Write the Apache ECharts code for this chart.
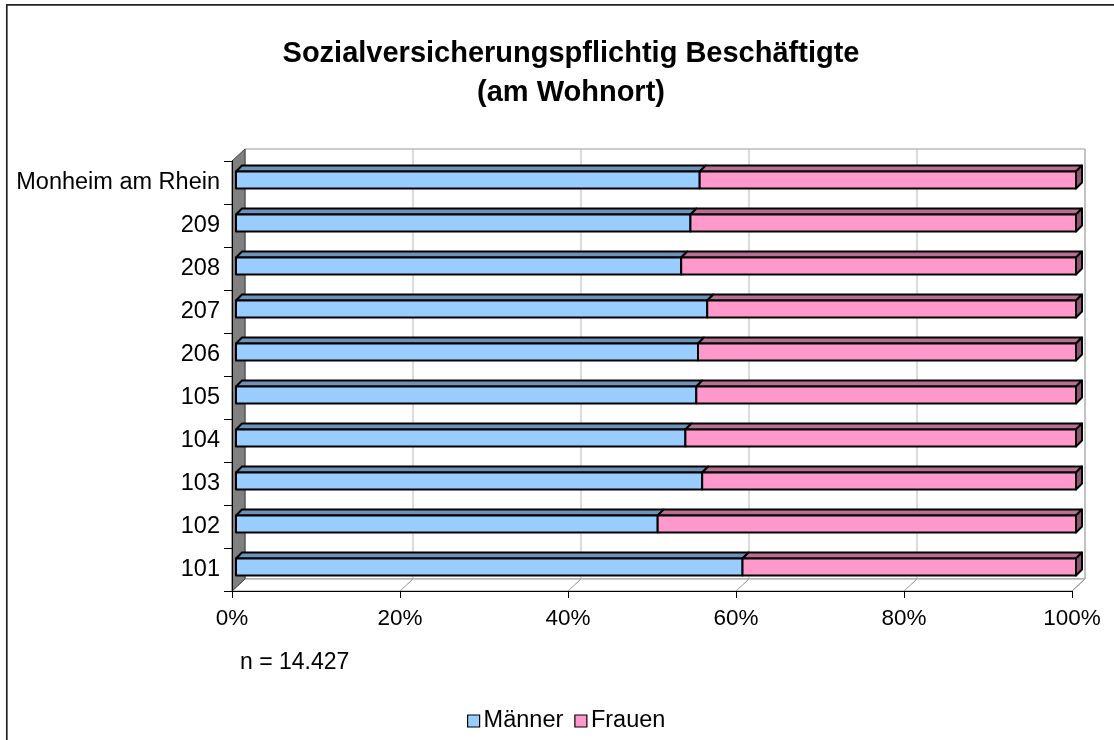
<!DOCTYPE html>
<html>
<head>
<meta charset="utf-8">
<script src="https://cdn.jsdelivr.net/npm/echarts@6/dist/echarts.min.js"></script>
<style>
  html, body { margin: 0; padding: 0; background: #fff; }
  #chart { width: 1114px; height: 740px; }
</style>
</head>
<body>
<div id="chart"></div>
<script>
// categories bottom -> top
const categories = ['101', '102', '103', '104', '105', '206', '207', '208', '209', 'Monheim am Rhein'];
// share in percent
const maenner = [60.3, 50.2, 55.5, 53.5, 54.8, 55.0, 56.1, 53.0, 54.1, 55.2];
const frauen = [39.7, 49.8, 44.5, 46.5, 45.2, 45.0, 43.9, 47.0, 45.9, 44.8];
const xTicks = [0, 20, 40, 60, 80, 100];
const noteText = 'n = 14.427';

const FONT = '"Liberation Sans", Arial, sans-serif';
// depth of the back wall and of the bars
const WALL = [13, -12];
const BAR_OFF = [4, -2.5];
const BAR_DEPTH = [6, -6];
const BAR_H = 17;

var chart = echarts.init(document.getElementById('chart'));

//draws back wall, left wall, floor and gridlines
function renderWalls(params, api) {
  const cs = params.coordSys;
  const x = cs.x, y = cs.y, w = cs.width, h = cs.height;
  const dx = WALL[0], dy = WALL[1];
  const kids = [];
  kids.push({
    type: 'rect',
    shape: { x: x + dx, y: y + dy, width: w, height: h },
    style: { fill: '#fff', stroke: '#999', lineWidth: 1 }
  });
  kids.push({
    type: 'polygon',
    shape: { points: [[x, y + h], [x + dx, y + h + dy], [x + w + dx, y + h + dy], [x + w, y + h]] },
    style: { fill: '#fff', stroke: '#999', lineWidth: 1 }
  });
  xTicks.forEach(function (v) {
    const px = api.coord([v, 0])[0];
    kids.push({
      type: 'line',
      shape: { x1: px + dx, y1: y + dy, x2: px + dx, y2: y + h + dy },
      style: { stroke: '#b8b8b8', lineWidth: 1 }
    });
    kids.push({
      type: 'line',
      shape: { x1: px, y1: y + h, x2: px + dx, y2: y + h + dy },
      style: { stroke: '#999', lineWidth: 1 }
    });
  });
  kids.push({
    type: 'polygon',
    shape: { points: [[x, y], [x + dx, y + dy], [x + dx, y + h + dy], [x, y + h]] },
    style: { fill: '#808080', stroke: '#404040', lineWidth: 1 }
  });
  return { type: 'group', children: kids };
}

function makeBar(front, topC, sideC, withSide) {
  return function (params, api) {
    const p0 = api.coord([api.value(0), api.value(2)]);
    const p1 = api.coord([api.value(1), api.value(2)]);
    const x0 = p0[0] + BAR_OFF[0], x1 = p1[0] + BAR_OFF[0];
    const yc = p0[1] + BAR_OFF[1];
    const top = yc - BAR_H / 2, bot = yc + BAR_H / 2;
    const dx = BAR_DEPTH[0], dy = BAR_DEPTH[1];
    const st = { stroke: '#000', lineWidth: 2, lineJoin: 'round' };
    const kids = [
      {
        type: 'polygon',
        shape: { points: [[x0, top], [x0 + dx, top + dy], [x1 + dx, top + dy], [x1, top]] },
        style: Object.assign({ fill: topC }, st)
      },
      {
        type: 'rect',
        shape: { x: x0, y: top, width: x1 - x0, height: bot - top },
        style: Object.assign({ fill: front }, st)
      }
    ];
    if (withSide) {
      kids.push({
        type: 'polygon',
        shape: { points: [[x1, top], [x1 + dx, top + dy], [x1 + dx, bot + dy], [x1, bot]] },
        style: Object.assign({ fill: sideC }, st)
      });
    }
    return { type: 'group', children: kids };
  };
}

let maennerData = categories.map(function (c, i) { return [0, maenner[i], i]; });
let frauenData = categories.map(function (c, i) { return [maenner[i], maenner[i] + frauen[i], i]; });

let option = {
  animation: false,
  backgroundColor: '#fff',
  title: {
    text: 'Sozialversicherungspflichtig Beschäftigte\n(am Wohnort)',
    left: 566,
    textAlign: 'center',
    top: 29,
    textStyle: { fontFamily: FONT, fontSize: 29, fontWeight: 'bold', color: '#000', lineHeight: 39 }
  },
  legend: {
    left: 462,
    top: 704,
    itemWidth: 12,
    itemHeight: 12,
    itemGap: 11,
    icon: 'rect',
    textStyle: { fontFamily: FONT, fontSize: 23.5, color: '#000', padding: [0, 0, 0, -1] },
    data: [
      { name: 'Männer', itemStyle: { color: '#99ccff', borderColor: '#000', borderWidth: 1.2 } },
      { name: 'Frauen', itemStyle: { color: '#ff99cc', borderColor: '#000', borderWidth: 1.2 } }
    ]
  },
  grid: { left: 232, right: 42, top: 161, bottom: 149, containLabel: false },
  xAxis: {
    type: 'value',
    min: 0,
    max: 100,
    interval: 20,
    z: 10,
    axisLine: { show: true, lineStyle: { color: '#000', width: 1 } },
    axisTick: { show: true, length: 7, lineStyle: { color: '#000' } },
    splitLine: { show: false },
    axisLabel: { formatter: '{value}%', margin: 16, fontFamily: FONT, fontSize: 22.5, color: '#000' }
  },
  yAxis: {
    type: 'category',
    data: categories,
    z: 10,
    axisLine: { show: true, lineStyle: { color: '#000', width: 1 } },
    axisTick: { show: true, length: 8, lineStyle: { color: '#000' } },
    axisLabel: { margin: 12, fontFamily: FONT, fontSize: 23.5, color: '#000' }
  },
  graphic: [
    {
      type: 'text',
      left: 240,
      top: 651,
      style: { text: noteText, font: '23px ' + FONT, fill: '#000' }
    },
    {
      type: 'rect',
      shape: { x: 6.8, y: 4.8, width: 1300, height: 900 },
      style: { fill: 'none', stroke: '#222', lineWidth: 1.7 },
      silent: true
    }
  ],
  series: [
    {
      name: 'walls',
      type: 'custom',
      silent: true,
      z: 1,
      data: [[0, 0]],
      encode: { x: 0, y: 1 },
      renderItem: renderWalls
    },
    {
      name: 'Männer',
      type: 'custom',
      z: 2,
      itemStyle: { color: '#99ccff' },
      data: maennerData,
      encode: { x: [0, 1], y: 2 },
      renderItem: makeBar('#99ccff', '#6f93b8', '#5a7a9a', false)
    },
    {
      name: 'Frauen',
      type: 'custom',
      z: 2,
      itemStyle: { color: '#ff99cc' },
      data: frauenData,
      encode: { x: [0, 1], y: 2 },
      renderItem: makeBar('#ff99cc', '#b86f93', '#8f5473', true)
    }
  ]
};

chart.setOption(option);
</script>
</body>
</html>
